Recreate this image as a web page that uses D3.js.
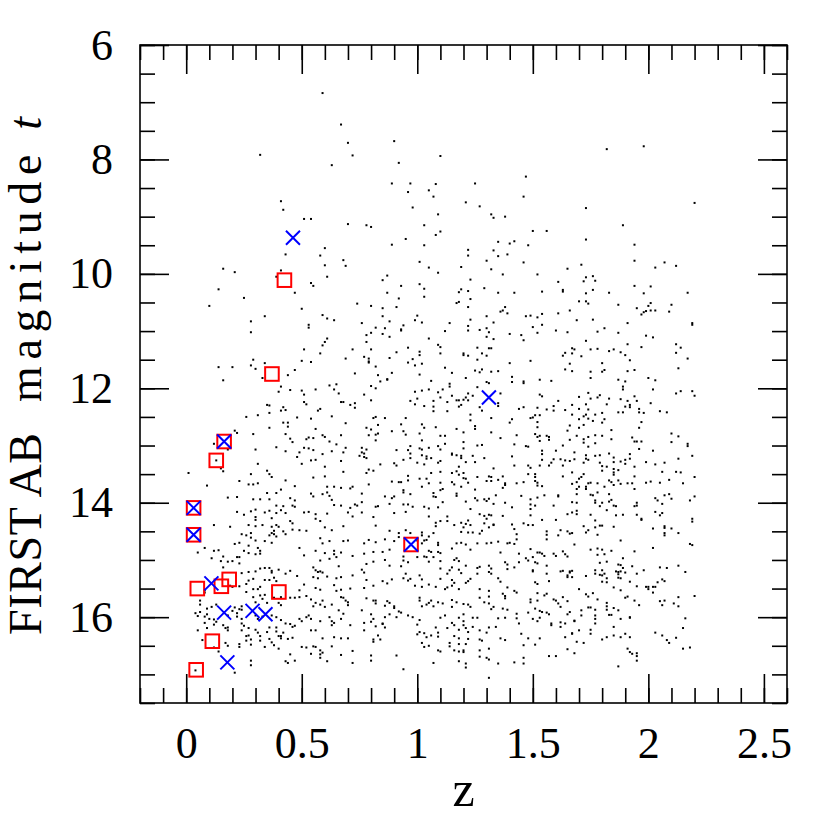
<!DOCTYPE html>
<html>
<head>
<meta charset="utf-8">
<script src="https://cdn.jsdelivr.net/npm/d3@7"></script>
<style>
  html, body { margin: 0; padding: 0; background: #fff; }
  svg { display: block; }
</style>
</head>
<body>
<svg id="chart"></svg>
<script>
const d3 = window.d3

// FIRST sources, [z, t]
const sources = [
  [0.59,6.84],[0.67,7.39],[0.70,7.71],[0.72,7.93],[0.63,8.10],[0.90,7.68],[0.92,8.06],[0.32,7.92],[1.10,7.94],[0.89,8.42],[0.97,8.42],[0.96,8.57],[1.08,8.43],[1.05,8.54],[1.07,8.65],[0.98,8.84],[1.09,8.96],[0.41,8.73],[0.42,8.88],[0.51,9.04],[0.54,9.04],[0.70,9.13],[0.78,9.15],[0.80,9.18],[1.03,9.15],[1.08,9.32],[0.95,9.39],[0.89,9.49],[1.03,9.50],[0.43,9.66],[0.60,9.55],[0.58,9.68],[0.68,9.76],[0.60,9.85],[0.69,9.86],[1.01,9.79],[1.05,9.89],[1.09,9.98],[0.16,9.91],[0.21,9.97],[0.41,9.94],[0.39,10.05],[0.61,10.05],[0.87,10.03],[0.85,10.11],[0.54,10.16],[0.55,10.21],[0.93,10.21],[1.01,10.18],[1.03,10.26],[0.14,10.27],[0.47,10.33],[0.87,10.33],[0.25,10.42],[0.92,10.43],[1.03,10.40],[0.10,10.56],[0.74,10.52],[0.80,10.56],[0.85,10.60],[0.91,10.58],[0.50,10.61],[0.34,10.74],[0.28,10.83],[0.59,10.72],[0.61,10.78],[0.64,10.81],[0.76,10.86],[0.85,10.74],[0.88,10.83],[1.00,10.73],[0.99,10.81],[1.02,10.85],
  [1.82,7.82],[1.98,7.77],[1.47,8.30],[1.25,8.42],[1.46,8.65],[1.21,8.75],[1.27,8.82],[1.73,8.85],[2.20,8.76],[1.32,8.96],[1.33,9.02],[1.38,9.00],[1.89,9.15],[1.10,9.26],[1.50,9.25],[1.56,9.25],[1.73,9.40],[1.35,9.44],[1.40,9.47],[1.42,9.43],[1.48,9.50],[1.94,9.49],[1.22,9.58],[1.22,9.68],[1.33,9.59],[1.35,9.69],[1.39,9.66],[1.30,9.77],[1.46,9.80],[1.71,9.84],[1.94,9.77],[2.07,9.80],[2.12,9.86],[2.03,9.89],[1.19,9.88],[1.32,9.92],[1.65,9.91],[1.37,10.01],[1.52,10.01],[1.23,10.10],[1.61,10.14],[1.73,10.06],[1.76,10.04],[1.72,10.13],[1.77,10.12],[1.94,10.21],[2.01,10.22],[1.18,10.32],[1.19,10.27],[1.22,10.30],[1.29,10.25],[1.35,10.33],[1.42,10.33],[1.54,10.31],[1.63,10.28],[1.63,10.31],[1.73,10.34],[1.76,10.28],[1.83,10.33],[1.98,10.34],[2.17,10.33],[1.23,10.44],[1.17,10.51],[1.18,10.49],[1.22,10.58],[1.38,10.58],[1.36,10.66],[1.37,10.64],[1.39,10.69],[1.30,10.74],[1.23,10.80],[1.33,10.85],[1.14,10.86],[1.47,10.74],[1.49,10.73],[1.52,10.76],[1.54,10.70],[1.61,10.69],[1.66,10.64],[1.70,10.48],[1.73,10.48],[1.74,10.52],[1.69,10.81],[1.76,10.80],[1.87,10.54],[1.95,10.60],[1.91,10.86],[1.97,10.71],[1.98,10.67],[1.99,10.65],[2.00,10.56],[2.01,10.51],[2.01,10.64],[2.03,10.64],[2.10,10.54],[2.09,10.66],[2.19,10.86],
  [0.28,11.02],[0.53,10.94],[0.53,10.89],[0.61,11.13],[0.60,11.19],[0.59,11.25],[0.51,11.32],[0.58,11.39],[0.72,11.32],[0.69,11.48],[0.29,11.50],[0.34,11.56],[0.50,11.52],[0.54,11.54],[0.14,11.63],[0.20,11.63],[0.28,11.60],[0.30,11.66],[0.47,11.68],[0.44,11.77],[0.73,11.74],[0.33,11.82],[0.16,11.86],[0.41,11.97],[0.40,12.06],[0.45,12.03],[0.50,12.04],[0.51,12.11],[0.56,12.02],[0.62,11.95],[0.65,11.93],[0.64,12.02],[0.66,12.09],[0.67,12.24],[0.68,12.24],[0.71,12.29],[0.73,12.26],[0.73,12.34],[0.51,12.24],[0.52,12.28],[0.35,12.29],[0.36,12.30],[0.42,12.33],[0.43,12.38],[0.41,12.39],[0.36,12.43],[0.58,12.36],[0.57,12.39],[0.26,12.50],[0.31,12.47],[0.48,12.51],[0.54,12.53],[0.63,12.49],[0.42,12.60],[0.44,12.60],[0.44,12.67],[0.36,12.69],[0.56,12.71],[0.69,12.61],[0.21,12.74],[0.22,12.78],[0.29,12.80],[0.43,12.80],[0.45,12.88],[0.46,12.94],[0.52,12.89],[0.53,12.86],[0.55,12.87],[0.59,12.82],[0.60,12.85],[0.67,12.82],[0.62,12.93],[0.65,12.98],[0.12,12.97],[0.39,13.03],[0.30,13.07],[0.51,13.04],[0.53,13.05],[0.55,13.08],[0.43,13.10],[0.49,13.12],[0.48,13.20],[0.59,13.15],[0.63,13.10],[0.68,13.12],[0.69,13.04],[0.54,13.26],[0.56,13.25],[0.67,13.27],[0.18,13.07],[0.31,13.32],[0.50,13.32],[0.60,13.37],[0.13,13.26],[0.15,13.40],[0.16,13.45],[0.01,13.48],[0.28,13.50],[0.35,13.44],[0.36,13.50],[0.37,13.55],[0.68,13.46],[0.55,13.56],[0.60,13.54],[0.23,13.62],[0.43,13.61],[0.31,13.66],[0.27,13.68],[0.29,13.68],[0.09,13.70],[0.47,13.71],[0.61,13.72],[0.64,13.72],[0.67,13.74],[0.71,13.75],[0.72,13.72],[0.41,13.77],[0.75,13.18],
  [0.82,10.94],[0.86,10.95],[0.94,10.90],[0.93,10.97],[0.93,10.99],[1.12,11.00],[1.22,10.91],[1.22,10.99],[1.27,10.98],[1.30,10.95],[1.31,11.02],[0.78,11.07],[0.80,11.03],[0.85,11.05],[0.88,11.10],[0.78,11.19],[1.05,11.13],[1.30,11.10],[1.33,11.14],[1.40,11.05],[1.45,11.07],[1.46,11.16],[1.50,10.93],[0.80,11.32],[0.91,11.37],[0.96,11.29],[1.01,11.36],[1.01,11.42],[1.09,11.24],[1.10,11.28],[1.10,11.39],[1.26,11.29],[1.31,11.30],[1.32,11.30],[1.20,11.39],[1.20,11.42],[1.22,11.43],[1.28,11.39],[1.30,11.43],[1.26,11.50],[0.77,11.45],[0.79,11.48],[0.79,11.53],[0.79,11.55],[0.88,11.47],[0.98,11.49],[0.96,11.55],[1.02,11.57],[0.99,11.60],[0.82,11.62],[1.12,11.64],[1.40,11.56],[1.49,11.52],[0.89,11.73],[0.83,11.77],[1.01,11.76],[1.15,11.73],[1.25,11.69],[1.27,11.72],[1.28,11.67],[1.32,11.71],[1.35,11.70],[1.41,11.80],[1.41,11.89],[1.21,11.82],[0.87,11.84],[0.87,11.85],[0.84,11.88],[1.06,11.87],[1.14,11.92],[1.14,11.97],[1.30,11.89],[1.31,11.91],[1.46,11.88],[1.46,11.91],[0.80,11.96],[0.82,12.00],[0.77,12.11],[0.99,12.06],[1.02,12.04],[1.05,12.02],[1.09,12.07],[1.11,12.02],[1.15,12.13],[1.26,11.98],[1.22,12.09],[1.24,12.13],[1.36,12.09],[0.80,12.21],[0.97,12.22],[1.00,12.18],[0.99,12.28],[1.03,12.31],[1.07,12.22],[1.07,12.32],[1.07,12.40],[1.10,12.16],[1.13,12.24],[1.13,12.40],[1.17,12.21],[1.18,12.21],[1.20,12.20],[1.21,12.16],[1.22,12.21],[1.18,12.32],[1.19,12.29],[1.27,12.33],[1.28,12.39],[1.35,12.26],[1.35,12.31],[1.44,12.36],[1.46,12.33],[1.23,12.46],[1.23,12.56],[1.32,12.52],[0.82,12.50],[0.81,12.52],[0.86,12.52],[0.95,12.52],[1.40,12.60],[1.41,12.54],[1.49,12.52],[1.50,12.51],[0.93,12.63],[1.02,12.63],[1.03,12.69],[0.83,12.64],[0.78,12.69],[0.80,12.72],[1.08,12.68],[1.17,12.71],[1.25,12.66],[1.25,12.71],[0.94,12.75],[0.95,12.81],[0.83,12.79],[0.79,12.82],[0.82,12.81],[0.89,12.75],[1.01,12.79],[1.20,12.77],[1.10,12.83],[1.12,12.83],[1.32,12.77],[1.43,12.82],[1.36,12.87],[0.82,12.91],[1.02,12.91],[1.12,12.97],[1.20,12.94],[1.26,13.00],[1.28,12.99],[1.42,12.98],[1.47,13.01],[1.48,13.02],[0.76,13.04],[0.78,13.07],[0.91,13.08],[0.97,13.01],[0.96,13.08],[1.01,13.05],[1.02,13.07],[1.05,13.04],[1.09,13.01],[1.10,13.07],[1.20,13.05],[0.76,13.12],[0.77,13.14],[0.77,13.20],[0.78,13.22],[0.97,13.14],[0.97,13.22],[1.02,13.17],[1.04,13.19],[1.04,13.23],[1.15,13.14],[1.15,13.16],[1.17,13.17],[1.19,13.18],[1.19,13.22],[1.24,13.18],[0.94,13.25],[1.00,13.30],[1.03,13.33],[1.06,13.22],[1.10,13.27],[1.09,13.30],[1.21,13.29],[1.25,13.29],[1.29,13.22],[1.41,13.19],[0.84,13.33],[0.90,13.31],[0.91,13.35],[1.18,13.37],[1.33,13.40],[1.42,13.35],[1.48,13.35],[1.49,13.39],[0.79,13.42],[0.81,13.44],[0.78,13.48],[1.06,13.48],[1.10,13.46],[1.15,13.48],[1.17,13.45],[1.18,13.51],[1.20,13.48],[1.20,13.57],[1.21,13.58],[1.26,13.55],[1.30,13.62],[1.31,13.54],[1.32,13.55],[1.32,13.62],[1.35,13.60],[1.37,13.54],[1.38,13.66],[1.38,13.69],[1.37,13.74],[1.43,13.66],[1.46,13.64],[1.48,13.50],[0.96,13.53],[0.96,13.61],[1.01,13.58],[1.04,13.58],[1.05,13.66],[1.02,13.72],[0.89,13.63],[0.92,13.64],[0.93,13.64],[0.79,13.68],[1.10,13.65],[1.11,13.76],[1.10,13.78],[1.15,13.64],[1.16,13.68],[1.19,13.72],[1.22,13.65],[1.25,13.77],[0.94,13.78],
  [1.54,10.89],[1.52,11.03],[1.60,10.99],[1.65,11.02],[1.78,11.01],[1.81,10.95],[1.87,11.03],[1.99,11.08],[2.02,11.11],[2.19,10.89],[1.73,11.17],[1.91,11.23],[1.97,11.28],[2.12,11.23],[2.14,11.29],[2.12,11.38],[1.67,11.30],[1.68,11.32],[1.64,11.38],[1.63,11.43],[1.67,11.39],[1.71,11.44],[1.75,11.32],[1.78,11.31],[1.83,11.35],[1.85,11.32],[1.88,11.37],[1.90,11.42],[1.92,11.51],[2.17,11.48],[1.66,11.57],[1.80,11.56],[1.64,11.67],[1.67,11.70],[1.75,11.71],[1.75,11.82],[1.80,11.71],[1.81,11.68],[1.91,11.70],[1.94,11.68],[2.13,11.65],[1.53,11.85],[1.58,11.87],[1.87,11.85],[1.90,11.88],[2.00,11.82],[2.03,11.86],[1.89,11.97],[1.89,12.02],[2.02,12.02],[1.53,12.11],[1.54,12.14],[1.61,12.22],[1.70,12.15],[1.74,12.08],[1.75,12.18],[1.78,12.16],[1.79,12.12],[1.83,12.18],[1.88,12.19],[1.91,12.22],[1.94,12.14],[1.95,12.22],[2.12,12.09],[2.14,12.05],[2.19,12.05],[2.20,12.13],[2.01,12.26],[1.82,12.28],[1.73,12.28],[1.67,12.29],[1.52,12.34],[1.56,12.37],[1.59,12.31],[1.59,12.39],[1.64,12.38],[1.70,12.36],[1.74,12.37],[1.90,12.32],[1.92,12.29],[1.92,12.33],[1.87,12.42],[1.89,12.42],[1.96,12.42],[1.98,12.43],[2.05,12.40],[2.08,12.42],[1.96,12.36],[1.51,12.47],[1.53,12.47],[1.67,12.46],[1.72,12.49],[1.73,12.46],[1.70,12.54],[1.77,12.46],[1.80,12.43],[1.81,12.54],[1.74,12.53],[1.76,12.57],[1.80,12.60],[1.52,12.59],[1.52,12.68],[1.66,12.65],[1.70,12.69],[1.72,12.64],[1.84,12.73],[1.97,12.59],[1.96,12.69],[1.65,12.74],[1.51,12.80],[1.52,12.85],[1.53,12.83],[1.56,12.83],[1.57,12.85],[1.57,12.90],[1.53,12.92],[1.66,12.90],[1.69,12.83],[1.72,12.89],[1.74,12.85],[1.77,12.82],[1.80,12.83],[1.72,12.95],[1.74,13.02],[1.77,12.96],[1.84,12.89],[1.93,12.86],[1.94,12.93],[1.95,12.93],[1.97,12.93],[2.10,12.79],[2.13,12.84],[2.10,12.94],[2.17,12.97],[2.17,13.01],[1.96,13.06],[2.02,13.09],[1.63,13.00],[1.60,13.09],[1.54,13.09],[1.54,13.15],[1.54,13.25],[1.68,13.12],[1.73,13.17],[1.73,13.23],[1.74,13.25],[1.77,13.18],[1.79,13.17],[1.83,13.14],[1.85,13.21],[1.92,13.15],[1.92,13.23],[2.19,13.18],[1.59,13.24],[1.62,13.24],[1.64,13.26],[1.66,13.27],[1.68,13.24],[1.72,13.30],[1.79,13.30],[1.80,13.36],[1.82,13.37],[1.85,13.29],[1.88,13.28],[1.90,13.25],[1.90,13.32],[1.94,13.37],[1.99,13.29],[2.03,13.33],[2.07,13.30],[2.13,13.23],[1.53,13.35],[1.57,13.35],[1.58,13.30],[1.63,13.35],[1.85,13.41],[1.85,13.47],[1.85,13.51],[1.87,13.43],[1.80,13.44],[2.06,13.46],[2.12,13.46],[2.14,13.47],[1.51,13.50],[1.51,13.55],[1.51,13.62],[1.52,13.65],[1.52,13.70],[1.54,13.71],[1.67,13.47],[1.63,13.54],[1.72,13.50],[1.71,13.55],[1.70,13.58],[1.74,13.66],[1.75,13.65],[1.69,13.64],[1.67,13.67],[1.78,13.66],[1.83,13.61],[1.84,13.64],[1.85,13.69],[1.88,13.67],[1.91,13.66],[1.94,13.54],[1.93,13.66],[1.87,13.61],[1.99,13.65],[2.01,13.63],[2.05,13.65],[2.09,13.60],[2.15,13.66],[2.20,13.55],[1.70,13.72],[1.73,13.72],[1.81,13.72],[1.73,13.76],[1.69,13.76],[1.94,13.76],
  [0.18,13.91],[0.22,13.90],[0.29,13.94],[0.32,13.94],[0.35,13.83],[0.39,13.83],[0.36,13.94],[0.45,13.92],[0.47,13.96],[0.54,13.84],[0.55,13.89],[0.59,13.85],[0.61,13.82],[0.62,13.88],[0.63,13.95],[0.64,14.04],[0.67,14.05],[0.73,14.03],[0.74,14.05],[0.71,14.09],[0.39,14.05],[0.42,14.06],[0.46,14.05],[0.47,14.07],[0.22,14.16],[0.25,14.21],[0.28,14.15],[0.30,14.12],[0.34,14.17],[0.36,14.14],[0.39,14.18],[0.41,14.13],[0.43,14.18],[0.51,14.17],[0.53,14.16],[0.56,14.20],[0.61,14.19],[0.70,14.17],[0.72,14.24],[0.30,14.25],[0.30,14.30],[0.37,14.27],[0.45,14.32],[0.46,14.36],[0.56,14.28],[0.58,14.32],[0.12,14.39],[0.19,14.42],[0.27,14.39],[0.30,14.41],[0.33,14.39],[0.37,14.42],[0.39,14.39],[0.40,14.42],[0.38,14.49],[0.46,14.47],[0.49,14.48],[0.52,14.49],[0.60,14.43],[0.63,14.48],[0.68,14.41],[0.24,14.55],[0.26,14.57],[0.28,14.53],[0.28,14.61],[0.37,14.53],[0.38,14.55],[0.39,14.59],[0.36,14.57],[0.42,14.50],[0.43,14.55],[0.30,14.66],[0.34,14.67],[0.37,14.70],[0.21,14.72],[0.23,14.70],[0.58,14.62],[0.59,14.71],[0.62,14.67],[0.68,14.67],[0.70,14.66],[0.27,14.75],[0.25,14.84],[0.27,14.88],[0.31,14.79],[0.32,14.84],[0.32,14.89],[0.49,14.79],[0.56,14.84],[0.60,14.88],[0.64,14.84],[0.64,14.90],[0.67,14.87],[0.05,14.87],[0.08,14.79],[0.12,14.84],[0.14,14.83],[0.11,14.97],[0.15,15.02],[0.16,14.94],[0.22,14.95],[0.23,15.06],[0.23,14.95],[0.30,14.90],[0.51,14.92],[0.58,15.01],[0.62,14.98],[0.65,14.95],[0.72,14.93],[0.18,15.03],[0.20,15.02],[0.16,15.13],[0.32,15.15],[0.34,15.14],[0.36,15.14],[0.37,15.19],[0.37,15.22],[0.27,15.21],[0.30,15.20],[0.24,15.23],[0.40,15.17],[0.43,15.24],[0.45,15.19],[0.48,15.28],[0.55,15.13],[0.56,15.18],[0.57,15.21],[0.58,15.20],[0.55,15.30],[0.57,15.32],[0.59,15.22],[0.66,15.11],[0.61,15.29],[0.65,15.32],[0.67,15.30],[0.72,15.27],[0.27,15.36],[0.29,15.33],[0.34,15.35],[0.36,15.35],[0.38,15.31],[0.39,15.37],[0.51,15.43],[0.56,15.49],[0.58,15.52],[0.64,15.44],[0.67,15.52],[0.71,15.50],[0.65,15.54],[0.49,15.53],[0.47,15.66],[0.29,15.51],[0.31,15.51],[0.32,15.47],[0.26,15.56],[0.26,15.42],[0.23,15.46],[0.19,15.45],[0.20,15.47],[0.08,15.53],[0.08,15.57],[0.29,15.65],[0.30,15.74],[0.32,15.62],[0.33,15.68],[0.34,15.61],[0.35,15.75],[0.38,15.66],[0.41,15.65],[0.41,15.79],[0.40,15.75],[0.45,15.66],[0.49,15.65],[0.52,15.63],[0.54,15.69],[0.56,15.75],[0.55,15.81],[0.58,15.78],[0.59,15.71],[0.60,15.82],[0.63,15.78],[0.67,15.65],[0.68,15.66],[0.69,15.71],[0.70,15.79],[0.70,15.74],[0.06,15.71],[0.06,15.78],[0.09,15.85],[0.11,15.82],[0.13,15.78],[0.21,15.83],[0.23,15.86],[0.24,15.81],[0.24,15.87],[0.20,15.89],[0.22,15.93],[0.04,15.93],[0.05,15.98],[0.06,15.91],[0.08,15.99],[0.09,15.95],[0.10,16.03],[0.12,16.04],[0.18,15.97],[0.22,15.99],[0.24,16.03],[0.30,15.97],[0.31,16.03],[0.33,15.99],[0.37,15.97],[0.39,16.00],[0.41,16.05],[0.43,16.11],[0.45,16.12],[0.46,16.17],[0.47,16.15],[0.49,16.03],[0.50,16.07],[0.52,16.00],[0.53,15.97],[0.54,16.03],[0.58,16.07],[0.62,16.00],[0.63,16.07],[0.66,15.88],[0.67,16.03],[0.68,15.94],[0.63,16.14],[0.64,16.10],[0.71,16.14],[0.08,16.10],[0.09,16.19],[0.12,16.13],[0.13,16.08],[0.16,16.14],[0.17,16.19],[0.18,16.18],[0.18,16.23],[0.24,16.11],[0.25,16.15],[0.24,16.23],[0.27,16.19],[0.30,16.22],[0.31,16.27],[0.32,16.33],[0.36,16.18],[0.35,16.26],[0.39,16.18],[0.39,16.25],[0.40,16.33],[0.42,16.27],[0.41,16.33],[0.44,16.38],[0.54,16.23],[0.56,16.23],[0.05,16.23],[0.07,16.40],[0.26,16.33],[0.27,16.32],[0.26,16.41],[0.28,16.39],[0.32,16.41],[0.34,16.52],[0.36,16.38],[0.37,16.44],[0.41,16.37],[0.46,16.36],[0.59,16.37],[0.64,16.35],[0.67,16.37],[0.70,16.37],[0.12,16.53],[0.14,16.60],[0.17,16.45],[0.18,16.50],[0.23,16.52],[0.23,16.47],[0.28,16.48],[0.38,16.49],[0.40,16.55],[0.50,16.52],[0.52,16.53],[0.55,16.51],[0.56,16.52],[0.58,16.58],[0.59,16.62],[0.54,16.64],[0.63,16.51],[0.67,16.66],[0.72,16.59],[0.45,16.65],[0.47,16.76],[0.44,16.80],[0.43,16.77],[0.58,16.65],[0.58,16.71],[0.61,16.77],[0.72,16.80],[0.28,16.76],[0.28,16.84],[0.21,16.97],[0.04,16.93],
  [0.76,13.84],[0.76,13.99],[0.86,13.89],[0.89,13.92],[0.90,13.89],[0.94,13.82],[0.97,13.85],[0.82,14.07],[0.83,14.06],[0.88,14.02],[0.90,14.18],[0.94,14.03],[0.96,14.03],[0.98,14.07],[0.95,14.16],[1.03,14.07],[1.05,14.10],[1.07,13.89],[1.08,13.90],[1.07,13.83],[1.09,14.08],[1.11,13.99],[1.17,13.84],[1.17,13.88],[1.21,13.98],[1.23,14.11],[1.25,13.92],[1.26,13.96],[1.29,13.94],[1.30,13.97],[1.31,13.93],[1.34,13.87],[1.33,14.02],[1.38,14.00],[1.41,14.08],[1.45,13.88],[1.49,14.03],[0.76,14.17],[0.81,14.25],[0.82,14.40],[1.05,14.24],[1.08,14.41],[1.08,14.35],[1.10,14.32],[1.13,14.32],[1.13,14.24],[1.16,14.39],[1.19,14.35],[1.20,14.43],[1.21,14.37],[1.22,14.31],[1.23,14.39],[1.27,14.20],[1.29,14.23],[1.31,14.21],[1.32,14.22],[1.30,14.28],[1.29,14.36],[1.31,14.43],[1.33,14.39],[1.33,14.38],[1.37,14.23],[1.41,14.38],[1.42,14.46],[1.46,14.36],[1.48,14.39],[1.49,13.94],[1.49,14.11],[1.49,14.22],[0.88,14.49],[0.92,14.53],[0.95,14.48],[0.97,14.53],[1.02,14.52],[1.02,14.57],[1.05,14.59],[1.07,14.53],[1.19,14.51],[1.22,14.52],[1.24,14.52],[1.27,14.54],[1.28,14.49],[1.43,14.55],[1.43,14.64],[0.77,14.71],[0.79,14.65],[0.82,14.69],[0.86,14.64],[0.90,14.67],[0.92,14.60],[0.77,14.89],[0.81,14.86],[0.85,14.86],[0.88,14.82],[1.00,14.66],[1.02,14.71],[1.03,14.66],[1.04,14.65],[1.09,14.70],[1.09,14.74],[1.05,14.84],[1.06,14.86],[1.09,14.86],[1.10,14.88],[1.15,14.80],[1.17,14.71],[1.19,14.70],[1.21,14.73],[1.23,14.82],[1.26,14.71],[1.30,14.71],[1.32,14.70],[1.35,14.68],[1.36,14.87],[1.39,14.71],[1.40,14.70],[1.42,14.72],[1.44,14.89],[1.47,14.97],[1.49,14.81],[0.78,15.07],[0.77,15.22],[0.81,15.03],[0.86,15.00],[0.88,15.10],[0.94,14.94],[0.94,15.01],[0.96,15.04],[1.00,14.95],[1.03,14.94],[1.04,14.95],[1.07,14.95],[1.05,15.03],[1.10,15.02],[1.10,15.15],[1.16,15.00],[1.17,14.97],[1.18,15.02],[1.15,15.13],[1.13,15.24],[1.14,15.18],[1.18,15.17],[1.19,15.23],[1.21,15.10],[1.26,15.14],[1.27,15.12],[1.26,15.24],[1.31,15.10],[1.32,15.15],[1.31,15.21],[1.32,15.24],[1.38,15.04],[1.39,15.08],[1.39,15.16],[1.42,15.13],[1.44,15.04],[1.48,15.01],[1.50,15.18],[0.76,15.17],[0.77,15.49],[0.78,15.35],[0.81,15.45],[0.85,15.37],[0.87,15.41],[0.89,15.34],[0.93,15.11],[0.95,15.24],[0.94,15.32],[0.96,15.36],[0.97,15.33],[1.01,15.27],[1.02,15.34],[0.99,15.45],[1.02,15.47],[1.05,15.43],[1.08,15.47],[1.10,15.33],[1.12,15.51],[1.13,15.48],[1.15,15.35],[1.15,15.45],[1.16,15.40],[1.18,15.51],[1.21,15.40],[1.22,15.37],[1.23,15.33],[1.27,15.51],[1.27,15.66],[1.31,15.54],[1.31,15.64],[1.35,15.32],[1.36,15.38],[1.39,15.48],[1.37,15.59],[1.38,15.63],[1.38,15.67],[1.42,15.54],[1.43,15.57],[1.49,15.69],[1.49,15.74],[0.78,15.67],[0.81,15.71],[0.82,15.71],[0.82,15.76],[0.87,15.72],[0.86,15.80],[0.88,15.75],[0.90,15.81],[0.90,15.84],[0.92,15.90],[1.01,15.66],[1.01,15.71],[1.02,15.81],[1.04,15.78],[1.06,15.71],[1.05,15.75],[1.07,15.81],[1.09,15.74],[1.11,15.76],[1.15,15.70],[1.15,15.82],[1.17,15.74],[1.20,15.77],[1.22,15.78],[1.23,15.82],[1.29,15.74],[1.31,15.76],[1.33,15.82],[1.32,15.86],[1.37,15.85],[1.39,15.87],[0.76,15.88],[0.80,15.95],[0.81,16.03],[0.80,16.08],[0.86,16.00],[0.88,15.95],[0.85,16.11],[0.86,16.18],[0.91,16.00],[0.93,15.92],[0.96,15.97],[0.98,16.00],[1.01,16.05],[1.10,16.01],[1.12,15.97],[1.18,16.01],[1.20,16.07],[1.20,15.95],[1.24,16.01],[1.26,16.01],[1.35,16.02],[1.38,16.01],[1.43,15.94],[1.43,16.02],[1.48,15.92],[1.44,16.11],[0.77,16.10],[0.77,16.23],[0.82,16.16],[0.85,16.12],[1.00,16.13],[1.00,16.30],[1.03,16.28],[1.04,16.35],[1.06,16.32],[1.09,16.34],[1.09,16.27],[1.08,16.18],[1.15,16.10],[1.16,16.14],[1.13,16.19],[1.18,16.22],[1.20,16.14],[1.21,16.19],[1.22,16.26],[1.24,16.17],[1.27,16.23],[1.30,16.27],[1.31,16.18],[1.34,16.17],[0.81,16.39],[0.81,16.43],[0.83,16.32],[0.84,16.39],[1.01,16.26],[1.02,16.45],[1.03,16.52],[1.05,16.50],[1.14,16.45],[1.14,16.51],[1.16,16.33],[1.18,16.37],[1.18,16.47],[1.21,16.47],[1.22,16.38],[1.27,16.39],[1.28,16.41],[1.27,16.58],[1.31,16.55],[1.36,16.37],[1.38,16.40],[1.45,16.29],[1.48,16.37],[1.46,16.49],[1.09,16.58],[1.10,16.60],[1.16,16.58],[1.18,16.60],[1.20,16.58],[1.20,16.61],[0.91,16.67],[0.80,16.67],[0.80,16.76],[1.07,16.80],[1.18,16.77],[1.21,16.81],[1.21,16.88],[1.27,16.69],[1.30,16.71],[1.31,16.74],[1.35,16.81],[1.42,16.79],[1.46,16.71],[1.46,16.81],[0.94,16.91],[1.31,17.06],
  [1.52,13.91],[1.55,13.87],[1.51,14.05],[1.61,13.89],[1.61,13.87],[1.69,13.85],[1.75,13.86],[1.76,13.87],[1.78,13.82],[1.83,13.85],[1.84,13.95],[1.83,13.98],[1.85,14.05],[1.86,14.06],[1.77,13.96],[1.77,14.00],[1.80,14.00],[1.67,13.99],[1.69,14.00],[1.59,14.05],[1.82,14.13],[1.79,14.06],[1.94,14.06],[1.95,14.05],[1.95,14.00],[1.65,14.20],[1.67,14.17],[1.69,14.14],[1.69,14.20],[1.75,14.21],[1.86,14.22],[1.89,14.21],[1.95,14.21],[1.97,14.28],[1.97,14.30],[2.03,13.92],[2.04,13.96],[2.06,14.02],[2.07,13.87],[2.09,13.85],[2.10,13.93],[2.18,13.96],[2.20,13.89],[2.03,14.16],[2.05,14.22],[2.06,14.18],[2.19,14.28],[2.19,14.33],[1.54,14.30],[1.60,14.30],[1.77,14.31],[1.79,14.40],[1.80,14.40],[1.77,14.43],[1.72,14.41],[1.74,14.48],[1.73,14.52],[1.85,14.42],[2.02,14.45],[2.07,14.44],[2.07,14.41],[2.10,14.45],[2.07,14.53],[2.07,14.57],[2.13,14.53],[1.50,14.39],[1.56,14.50],[1.56,14.56],[1.56,14.64],[1.61,14.57],[1.62,14.48],[1.65,14.50],[1.66,14.54],[1.67,14.53],[1.78,14.56],[1.88,14.66],[1.68,14.73],[2.02,14.79],[2.18,14.72],[2.19,14.74],[1.52,14.87],[1.53,14.87],[1.54,14.89],[1.55,14.93],[1.50,14.95],[1.51,15.04],[1.52,15.06],[1.59,14.89],[1.60,14.93],[1.63,14.85],[1.64,14.90],[1.65,14.94],[1.75,14.82],[1.78,14.80],[1.80,14.82],[1.84,14.84],[1.78,14.91],[1.81,14.90],[1.94,14.85],[1.56,15.10],[1.79,15.05],[1.82,15.03],[1.89,14.97],[1.87,15.08],[1.50,15.20],[1.56,15.24],[1.62,15.20],[1.63,15.19],[1.65,15.27],[1.65,15.30],[1.66,15.20],[1.66,15.22],[1.67,15.19],[1.67,15.30],[1.73,15.28],[1.77,15.24],[1.77,15.18],[1.79,15.26],[1.80,15.18],[1.80,15.27],[1.81,15.24],[1.82,15.32],[1.82,15.39],[1.80,15.38],[1.86,15.20],[1.87,15.21],[1.88,15.20],[1.89,15.14],[1.88,15.09],[1.90,15.22],[1.87,15.31],[1.88,15.32],[1.87,15.25],[1.93,15.11],[1.95,15.24],[1.98,15.18],[2.05,15.13],[2.08,15.14],[2.13,15.10],[2.16,15.21],[1.51,15.39],[1.52,15.42],[1.57,15.37],[1.92,15.38],[2.06,15.34],[2.07,15.37],[2.04,15.39],[1.85,15.48],[1.88,15.53],[1.95,15.46],[1.99,15.47],[2.00,15.47],[2.00,15.51],[2.02,15.47],[2.03,15.47],[2.02,15.57],[1.70,15.51],[1.52,15.58],[1.55,15.62],[1.56,15.59],[1.73,15.60],[1.74,15.64],[1.76,15.58],[1.78,15.69],[1.63,15.65],[1.65,15.72],[1.59,15.69],[1.60,15.71],[1.90,15.66],[1.91,15.64],[1.94,15.71],[1.96,15.79],[1.52,15.71],[1.51,15.85],[1.50,16.03],[1.53,16.01],[1.52,16.07],[1.53,15.89],[1.54,15.91],[1.56,15.92],[1.57,15.95],[1.61,15.76],[1.62,15.82],[1.66,15.91],[1.65,15.95],[1.68,16.07],[1.71,15.88],[1.71,15.97],[1.74,15.83],[1.75,15.83],[1.77,15.87],[1.77,15.97],[1.77,16.03],[1.82,15.75],[1.82,15.81],[1.82,15.87],[1.83,15.96],[1.84,15.96],[1.85,15.84],[1.87,15.88],[1.88,16.03],[1.92,16.00],[1.92,16.01],[2.05,15.72],[2.07,15.71],[2.06,15.79],[2.11,15.76],[2.13,15.81],[2.13,15.65],[2.20,15.63],[1.58,16.11],[1.58,16.14],[1.62,16.09],[1.62,16.17],[1.64,16.11],[1.68,16.06],[1.70,16.23],[1.67,16.28],[1.75,16.22],[1.75,16.29],[1.77,16.11],[1.85,16.17],[1.85,16.32],[1.82,16.35],[1.80,16.39],[1.88,16.35],[1.90,16.29],[1.92,16.35],[2.03,16.27],[2.06,16.32],[2.08,16.40],[2.09,16.45],[2.12,16.36],[2.15,16.19],[2.16,16.02],[1.53,16.37],[1.51,16.48],[1.64,16.35],[1.67,16.29],[1.69,16.43],[1.72,16.45],[1.65,16.56],[1.68,16.63],[1.57,16.68],[1.60,16.68],[1.91,16.55],[1.92,16.61],[1.93,16.64],[1.95,16.63],[1.95,16.68],[1.95,16.76],[2.15,16.55],[2.18,16.53],[1.87,16.86]
]

// matched sources, red open squares
const squares = [
  [0.425,10.11],[0.371,11.75],[0.164,12.93],[0.130,13.26],[0.032,14.09],[0.032,14.56],[0.973,14.73],
  [0.048,15.50],[0.152,15.46],[0.186,15.34],[0.401,15.56],[0.113,16.42],[0.043,16.92]
]

// matched sources, blue crosses
const crosses = [
  [0.462,9.37],[1.310,12.16],[0.164,12.93],[0.032,14.09],[0.032,14.56],[0.973,14.73],
  [0.109,15.41],[0.164,15.92],[0.287,15.89],[0.343,15.95],[0.178,16.79]
]

const xMajor = [0, 0.5, 1, 1.5, 2, 2.5]
const yMajor = [6, 8, 10, 12, 14, 16]

const width = 830
const height = 830
const plotLeft = 140
const plotTop = 45
const plotRight = 787
const plotBottom = 703
const major = 29 // pixels
const minor = 15 // pixels
const serif = '"Liberation Serif", "Times New Roman", serif'

const svg = d3.select('#chart').attr('width', width).attr('height', height)

const x = d3.scaleLinear().domain([-0.2, 2.6]).range([plotLeft, plotRight])
const y = d3.scaleLinear().domain([6, 17.5]).range([plotTop, plotBottom])

const xMinor = d3.range(-2, 27).map(i => i / 10)
const yMinor = d3.range(12, 36).map(i => i / 2)

function styleAxis (g, labels) {
  g.select('.domain').remove()
  g.selectAll('.tick line').attr('stroke', '#000').attr('stroke-width', 1.6)
  if (!labels) g.selectAll('.tick text').remove()
  else g.selectAll('.tick text').attr('fill', '#000').style('font-family', serif).style('font-size', '44px')
}

// ticks point inward on all four sides
const axes = [
  {axis: d3.axisBottom(x).tickValues(xMinor).tickSize(-minor), at: [0, plotBottom]},
  {axis: d3.axisBottom(x).tickValues(xMajor).tickSize(-major).tickPadding(24).tickFormat(d => String(d)), at: [0, plotBottom], labels: true},
  {axis: d3.axisTop(x).tickValues(xMinor).tickSize(-minor), at: [0, plotTop]},
  {axis: d3.axisTop(x).tickValues(xMajor).tickSize(-major), at: [0, plotTop]},
  {axis: d3.axisLeft(y).tickValues(yMinor).tickSize(-minor), at: [plotLeft, 0]},
  {axis: d3.axisLeft(y).tickValues(yMajor).tickSize(-major).tickPadding(27).tickFormat(d => String(d)), at: [plotLeft, 0], labels: true},
  {axis: d3.axisRight(y).tickValues(yMinor).tickSize(-minor), at: [plotRight, 0]},
  {axis: d3.axisRight(y).tickValues(yMajor).tickSize(-major), at: [plotRight, 0]}
]

axes.forEach(a => {
  svg.append('g')
    .attr('transform', `translate(${a.at[0]},${a.at[1]})`)
    .call(a.axis.tickSizeOuter(0))
    .call(g => styleAxis(g, a.labels))
})

svg.append('rect')
  .attr('x', plotLeft).attr('y', plotTop)
  .attr('width', plotRight - plotLeft).attr('height', plotBottom - plotTop)
  .attr('fill', 'none').attr('stroke', '#000').attr('stroke-width', 1.6)

svg.append('g').selectAll('rect')
  .data(sources)
  .join('rect')
    .attr('x', d => x(d[0]) - 1)
    .attr('y', d => y(d[1]) - 1)
    .attr('width', 2)
    .attr('height', 2)
    .attr('fill', '#000')

svg.append('g').selectAll('rect')
  .data(squares)
  .join('rect')
    .attr('x', d => x(d[0]) - 6.8)
    .attr('y', d => y(d[1]) - 6.8)
    .attr('width', 13.6)
    .attr('height', 13.6)
    .attr('fill', 'none')
    .attr('stroke', '#ff0000')
    .attr('stroke-width', 2)

svg.append('g').selectAll('path')
  .data(crosses)
  .join('path')
    .attr('transform', d => `translate(${x(d[0])},${y(d[1])})`)
    .attr('d', 'M-7,-7L7,7M-7,7L7,-7')
    .attr('fill', 'none')
    .attr('stroke', '#0000ff')
    .attr('stroke-width', 2)

// axis titles
svg.append('text')
  .attr('x', (plotLeft + plotRight) / 2)
  .attr('y', 806)
  .attr('text-anchor', 'middle')
  .style('font-family', serif)
  .style('font-size', '50px')
  .text('z')

svg.append('text')
  .attr('transform', 'translate(41,635) rotate(-90)')
  .attr('textLength', 202)
  .attr('lengthAdjust', 'spacing')
  .style('font-family', serif)
  .style('font-size', '46px')
  .text('FIRST AB')

const magLabel = svg.append('text')
  .attr('transform', 'translate(41,402) rotate(-90)')
  .attr('textLength', 285)
  .attr('lengthAdjust', 'spacing')
  .style('font-family', serif)
  .style('font-size', '46px')
magLabel.append('tspan').text('magnitude ')
magLabel.append('tspan').style('font-style', 'italic').text('t')
</script>
</body>
</html>
